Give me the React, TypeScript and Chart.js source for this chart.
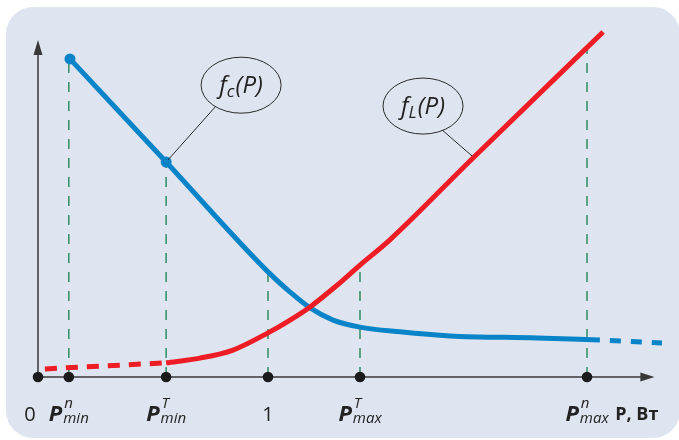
import React, { useEffect, useRef } from "react";
import { Chart, registerables } from "chart.js";

Chart.register(...registerables);

// ---- x positions of the marked powers (1 = reference power) ----
const P_N_MIN = 0.134;
const P_T_MIN = 0.557;
const P_ONE = 1;
const P_T_MAX = 1.4;
const P_N_MAX = 2.387;

const tickValues = [0, P_N_MIN, P_T_MIN, P_ONE, P_T_MAX, P_N_MAX];
const tickMain = ["0", "P", "P", "1", "P", "P"];
const tickSup = ["", "n", "T", "", "T", "n"];
const tickSub = ["", "min", "min", "", "max", "max"];
const axisUnit = "P, Вт";

// ---- f_c(P): blue curve ----
const blueSolidX = [0.139, 0.557, 1.0, 1.096, 1.183, 1.283, 1.4, 1.574, 1.791, 2.17, 2.443];
const blueSolidY = [9.44, 6.38, 3.12, 2.52, 2.05, 1.69, 1.48, 1.34, 1.22, 1.16, 1.1];
const blueDashX = [2.443, 2.713];
const blueDashY = [1.1, 1.01];
const blueMarkX = [0.139, 0.557];
const blueMarkY = [9.44, 6.38];

// ---- f_L(P): red curve ----
const redDashX = [0.03, 0.557];
const redDashY = [0.24, 0.42];
const redSolidX = [0.557, 0.704, 0.848, 1.0, 1.096, 1.183, 1.291, 1.4, 1.53, 1.878, 2.457];
const redSolidY = [0.42, 0.56, 0.8, 1.31, 1.69, 2.08, 2.67, 3.32, 4.07, 6.41, 10.24];

// ---- vertical guide lines (x and top value) ----
const guideX = [P_N_MIN, P_T_MIN, P_ONE, P_T_MAX, P_N_MAX];
const guideTop = [9.44, 6.38, 3.12, 3.32, 9.78];

// ---- callout labels (data coords) ----
const calloutMain = ["f", "f"];
const calloutSub = ["c", "L"];
const calloutCenterX = [0.883, 1.674];
const calloutCenterY = [8.66, 8.04];
const leaderFromX = [0.77, 1.757];
const leaderFromY = [8.01, 7.33];
const leaderToX = [0.565, 1.887];
const leaderToY = [6.44, 6.56];

// axis extents
const X_MIN = 0;
const X_MAX = 2.75;
const Y_MIN = 0;
const Y_MAX = 10.6;
const X_ARROW = 2.68;
const Y_ARROW = 10.0;

const BLUE = "#0a84c8";
const RED = "#ee1c25";
const GREEN = "#23875a";
const AXIS = "#383838";
const PANEL = "#dfe5f0";
const FONT = "'Open Sans', 'Noto Sans', sans-serif";

const pts = (xs: number[], ys: number[]) => xs.map((x, i) => ({ x, y: ys[i] }));

export default function App() {
  const ref = useRef<HTMLCanvasElement | null>(null);

  useEffect(() => {
    if (!ref.current) return;

    const decor = {
      id: "decor",
      beforeDraw(chart: any) {
        const ctx = chart.ctx as CanvasRenderingContext2D;
        ctx.save();
        ctx.fillStyle = "#ffffff";
        ctx.fillRect(0, 0, chart.width, chart.height);
        ctx.fillStyle = PANEL;
        ctx.beginPath();
        (ctx as any).roundRect(6, 7, 674, 431, 27);
        ctx.fill();
        ctx.restore();
      },
      beforeDatasetsDraw(chart: any) {
        const ctx = chart.ctx as CanvasRenderingContext2D;
        const xs = chart.scales.x;
        const ys = chart.scales.y;
        const x0 = xs.getPixelForValue(0);
        const y0 = ys.getPixelForValue(0);
        const xe = xs.getPixelForValue(X_ARROW);
        const ye = ys.getPixelForValue(Y_ARROW);
        ctx.save();
        ctx.strokeStyle = AXIS;
        ctx.fillStyle = AXIS;
        ctx.lineWidth = 1.5;
        ctx.beginPath();
        ctx.moveTo(x0, y0);
        ctx.lineTo(xe - 8, y0);
        ctx.moveTo(x0, y0);
        ctx.lineTo(x0, ye + 10);
        ctx.stroke();
        // arrow heads
        ctx.beginPath();
        ctx.moveTo(xe, y0);
        ctx.lineTo(xe - 14, y0 - 4.5);
        ctx.lineTo(xe - 14, y0 + 4.5);
        ctx.closePath();
        ctx.fill();
        ctx.beginPath();
        ctx.moveTo(x0, ye);
        ctx.lineTo(x0 - 4.5, ye + 15);
        ctx.lineTo(x0 + 4.5, ye + 15);
        ctx.closePath();
        ctx.fill();
        ctx.restore();
      },
      afterDraw(chart: any) {
        const ctx = chart.ctx as CanvasRenderingContext2D;
        const xs = chart.scales.x;
        const ys = chart.scales.y;
        const y0 = ys.getPixelForValue(0);
        const base = y0 + 44;
        ctx.save();
        ctx.fillStyle = "#222222";
        ctx.textBaseline = "alphabetic";
        ctx.textAlign = "left";
        const mainFont = `italic bold 22px ${FONT}`;
        const smallFont = `italic 15px ${FONT}`;
        tickValues.forEach((v, i) => {
          const px = xs.getPixelForValue(v);
          if (!tickSup[i] && !tickSub[i]) {
            ctx.font = `20px ${FONT}`;
            const w = ctx.measureText(tickMain[i]).width;
            const off = v === 0 ? -8 : 0;
            ctx.fillText(tickMain[i], px + off - w / 2, base);
            return;
          }
          ctx.font = mainFont;
          const wP = ctx.measureText(tickMain[i]).width;
          ctx.font = smallFont;
          const wSup = ctx.measureText(tickSup[i]).width;
          const wSub = ctx.measureText(tickSub[i]).width;
          const total = wP + 1 + Math.max(wSup, wSub);
          const left = px - total / 2;
          ctx.font = mainFont;
          ctx.fillText(tickMain[i], left, base);
          ctx.font = smallFont;
          ctx.fillText(tickSup[i], left + wP + 2, base - 13);
          ctx.fillText(tickSub[i], left + wP + 1, base + 2);
        });
        // unit label
        ctx.font = `bold 18px ${FONT}`;
        ctx.textAlign = "right";
        ctx.fillText(axisUnit, xs.getPixelForValue(X_ARROW) + 4, base - 1);

        // callouts
        ctx.textAlign = "left";
        ctx.strokeStyle = "#2a2a2a";
        ctx.lineWidth = 1;
        calloutMain.forEach((m, i) => {
          const cx = xs.getPixelForValue(calloutCenterX[i]);
          const cy = ys.getPixelForValue(calloutCenterY[i]);
          ctx.beginPath();
          ctx.ellipse(cx, cy, 40, 28, 0, 0, Math.PI * 2);
          ctx.stroke();
          ctx.beginPath();
          ctx.moveTo(xs.getPixelForValue(leaderFromX[i]), ys.getPixelForValue(leaderFromY[i]));
          ctx.lineTo(xs.getPixelForValue(leaderToX[i]), ys.getPixelForValue(leaderToY[i]));
          ctx.stroke();
          const bigF = `italic 24px ${FONT}`;
          const subF = `italic 17px ${FONT}`;
          ctx.font = bigF;
          const wf = ctx.measureText(m).width;
          const wr = ctx.measureText("(P)").width;
          ctx.font = subF;
          const ws = ctx.measureText(calloutSub[i]).width;
          const tot = wf + ws + wr + 1;
          let x = cx - tot / 2;
          const by = cy + 8;
          ctx.font = bigF;
          ctx.fillText(m, x, by);
          x += wf;
          ctx.font = subF;
          ctx.fillText(calloutSub[i], x, by + 4);
          x += ws + 1;
          ctx.font = bigF;
          ctx.fillText("(P)", x, by);
        });
        ctx.restore();
      },
    };

    const guideSets = guideX.map((gx, i) => ({
      type: "line" as const,
      data: [
        { x: gx, y: 0 },
        { x: gx, y: guideTop[i] },
      ],
      borderColor: GREEN,
      borderWidth: 1.4,
      borderDash: [10, 9],
      pointRadius: 0,
      clip: false as any,
    }));

    const chart = new Chart(ref.current, {
      type: "line",
      data: {
        datasets: [
          {
            data: tickValues.map((v) => ({ x: v, y: 0 })),
            showLine: false,
            pointRadius: 5.3,
            pointBackgroundColor: "#1a1a1a",
            pointBorderWidth: 0,
            clip: false as any,
          },
          {
            data: pts(blueMarkX, blueMarkY),
            showLine: false,
            pointRadius: 5.5,
            pointBackgroundColor: BLUE,
            pointBorderWidth: 0,
            clip: false as any,
          },
          {
            data: pts(redSolidX, redSolidY),
            borderColor: RED,
            borderWidth: 5,
            pointRadius: 0,
            cubicInterpolationMode: "monotone",
            borderCapStyle: "butt",
            clip: false as any,
          },
          {
            data: pts(redDashX, redDashY),
            borderColor: RED,
            borderWidth: 5,
            borderDash: [12, 9],
            pointRadius: 0,
            clip: false as any,
          },
          {
            data: pts(blueSolidX, blueSolidY),
            borderColor: BLUE,
            borderWidth: 5,
            pointRadius: 0,
            cubicInterpolationMode: "monotone",
            clip: false as any,
          },
          {
            data: pts(blueDashX, blueDashY),
            borderColor: BLUE,
            borderWidth: 5,
            borderDash: [11, 10],
            borderDashOffset: -10,
            pointRadius: 0,
            clip: false as any,
          },
          ...guideSets,
        ] as any,
      },
      options: {
        animation: false,
        responsive: true,
        maintainAspectRatio: false,
        layout: { padding: { left: 38, right: 8.5, top: 19.8, bottom: 63 } },
        plugins: { legend: { display: false }, tooltip: { enabled: false } },
        events: [],
        scales: {
          x: { type: "linear", min: X_MIN, max: X_MAX, display: false },
          y: { type: "linear", min: Y_MIN, max: Y_MAX, display: false },
        },
      },
      plugins: [decor],
    });

    return () => chart.destroy();
  }, []);

  return (
    <div style={{ position: "fixed", left: 0, top: 0, width: 679, height: 440 }}>
      <canvas ref={ref} />
    </div>
  );
}
